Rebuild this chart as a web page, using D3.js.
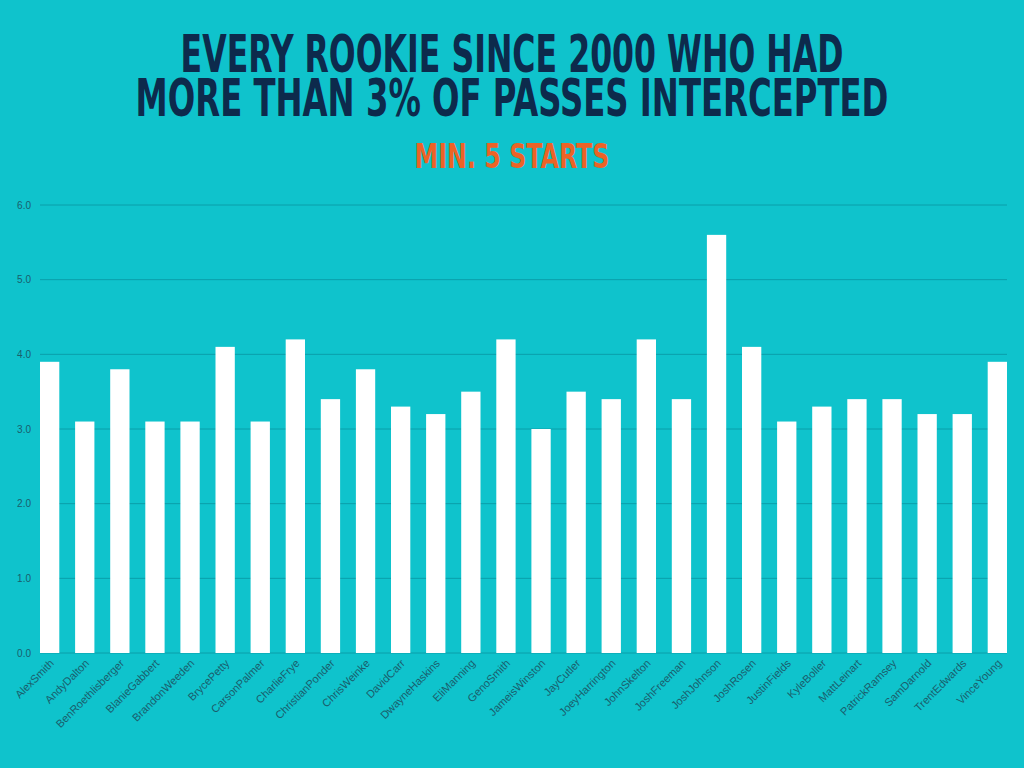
<!DOCTYPE html>
<html><head><meta charset="utf-8">
<script src="https://cdn.jsdelivr.net/npm/d3@7"></script>
<style>html,body{margin:0;padding:0;background:#0FC3CC;}svg{display:block;}</style>
</head><body>
<svg id="c" width="1024" height="768"></svg>
<script>
const players = ["AlexSmith","AndyDalton","BenRoethlisberger","BlanieGabbert","BrandonWeeden","BrycePetty","CarsonPalmer","CharlieFrye","ChristianPonder","ChrisWeinke","DavidCarr","DwayneHaskins","EliManning","GenoSmith","JameisWinston","JayCutler","JoeyHarrington","JohnSkelton","JoshFreeman","JoshJohnson","JoshRosen","JustinFields","KyleBoller","MattLeinart","PatrickRamsey","SamDarnold","TrentEdwards","VinceYoung"];
const intPct = [3.9,3.1,3.8,3.1,3.1,4.1,3.1,4.2,3.4,3.8,3.3,3.2,3.5,4.2,3.0,3.5,3.4,4.2,3.4,5.6,4.1,3.1,3.3,3.4,3.4,3.2,3.2,3.9];
const yTicks = [0,1,2,3,4,5,6];
const titleLines = ["EVERY ROOKIE SINCE 2000 WHO HAD","MORE THAN 3% OF PASSES INTERCEPTED"];
const subtitle = "MIN. 5 STARTS";

const svg = d3.select("#c");
svg.append("rect").attr("width",1024).attr("height",768).attr("fill","#0FC3CC");

const pL=40, pR=1007, pT=205, pB=653;
const x = d3.scaleBand().domain(players).range([pL,pR]).paddingInner(0.45).paddingOuter(0);
const y = d3.scaleLinear().domain([0,6]).range([pB,pT]);

// gridlines
svg.append("g").selectAll("line").data(yTicks).join("line")
  .attr("x1",pL).attr("x2",pR)
  .attr("y1",d=>y(d)).attr("y2",d=>y(d))
  .attr("stroke","#0A9EAA").attr("stroke-width",1);

// y labels
svg.append("g").selectAll("text").data(yTicks).join("text")
  .attr("x",31).attr("y",d=>y(d)+3.5)
  .attr("text-anchor","end")
  .attr("font-family","Liberation Sans, Arial, sans-serif")
  .attr("font-size",10).attr("fill","#1A5E6C")
  .text(d=>d.toFixed(1));

// bars
svg.append("g").selectAll("rect").data(intPct).join("rect")
  .attr("x",(d,i)=>x(players[i]))
  .attr("width",x.bandwidth())
  .attr("y",d=>y(d))
  .attr("height",d=>y(0)-y(d))
  .attr("fill","#FFFFFF");

// x labels
svg.append("g").selectAll("text").data(players).join("text")
  .attr("transform",d=>`translate(${x(d)+x.bandwidth()/2+5},${pB+11}) rotate(-45)`)
  .attr("text-anchor","end")
  .attr("font-family","Liberation Sans, Arial, sans-serif")
  .attr("font-size",11).attr("fill","#1A5E6C")
  .text(d=>d);

// title lines: condensed bold, stretched to the reference's width and cap height
const tf = "'DejaVu Sans Condensed','Liberation Sans Narrow',sans-serif";
function scaledLine(txt, cx, baseY, size, sy, targetW, color){
  const t = svg.append("text").attr("x",0).attr("y",0).attr("text-anchor","middle")
    .attr("font-family",tf).attr("font-weight","bold").attr("font-size",size)
    .attr("fill",color).text(txt);
  const w = t.node().getComputedTextLength();
  t.attr("transform",`translate(${cx},${baseY}) scale(${targetW/w},${sy})`);
}
scaledLine(titleLines[0],512,72,38,1.34,663,"#0D2A4C");
scaledLine(titleLines[1],512,116,38,1.34,753,"#0D2A4C");
scaledLine(subtitle,512,168,26,1.3,195,"#EC6326");
</script>
</body></html>
